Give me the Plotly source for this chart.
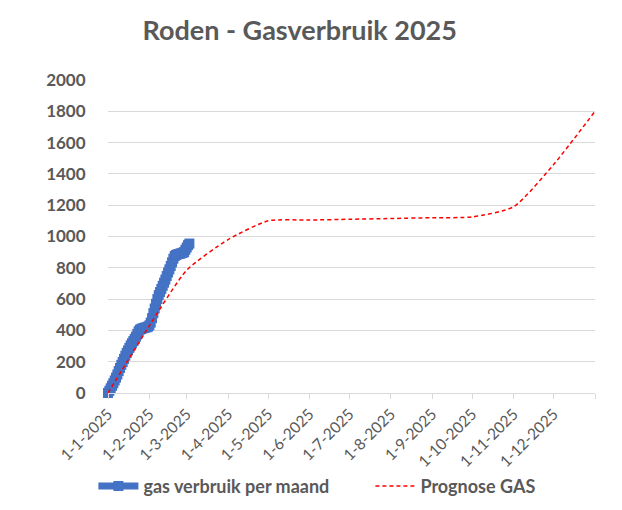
import datetime as dt
import plotly.graph_objects as go

# --- data ---
start_date = "2025-01-01"
gas_verbruik = [0, 14, 30, 46, 62, 80, 98, 118, 140, 160, 180, 198, 218, 238, 256, 272,
                288, 304, 318, 332, 346, 360, 378, 395, 405, 410, 413, 416, 418, 420, 424,
                432, 450, 478, 510, 540, 570, 600, 625, 645, 665, 685, 705, 725, 748, 770,
                790, 812, 835, 858, 875, 882, 886, 888, 890, 893, 896, 900, 915, 930, 945, 955]
prognose_dates = ["2025-01-01", "2025-02-01", "2025-03-01", "2025-04-01", "2025-05-01",
                  "2025-06-01", "2025-07-01", "2025-08-01", "2025-09-01", "2025-10-01",
                  "2025-11-01", "2025-12-01", "2026-01-01"]
prognose_gas = [0, 430, 785, 980, 1100, 1105, 1110, 1115, 1120, 1125, 1190, 1460, 1800]
tick_labels = ["1-1-2025", "1-2-2025", "1-3-2025", "1-4-2025", "1-5-2025", "1-6-2025",
               "1-7-2025", "1-8-2025", "1-9-2025", "1-10-2025", "1-11-2025", "1-12-2025", ""]
y_ticks = [0, 200, 400, 600, 800, 1000, 1200, 1400, 1600, 1800, 2000]

d0 = dt.date.fromisoformat(start_date)
gas_dates = [(d0 + dt.timedelta(days=i)).isoformat() for i in range(len(gas_verbruik))]

FONT = "Lato"
GRAY = "#595959"

fig = go.Figure()
fig.add_trace(go.Scatter(
    x=gas_dates, y=gas_verbruik, mode="lines+markers", name="gas verbruik per maand",
    line=dict(color="#4472C4", width=7),
    marker=dict(symbol="square", size=10, color="#4472C4"),
    cliponaxis=False,
))
fig.add_trace(go.Scatter(
    x=prognose_dates, y=prognose_gas, mode="lines", name="Prognose GAS",
    line=dict(color="#FF0000", width=1.5, dash="4px,3px", shape="spline", smoothing=0.6),
))

fig.update_layout(
    width=622, height=510,
    margin=dict(l=100, r=35, t=72, b=125, autoexpand=False),
    paper_bgcolor="white", plot_bgcolor="white",
    font=dict(family=FONT, color=GRAY),
    title=dict(text="Roden - Gasverbruik 2025", x=0.469, xanchor="center",
               xref="container", y=1 - 23 / 510, yref="container", yanchor="middle",
               font=dict(size=27, color=GRAY, family=FONT, weight="bold")),
    showlegend=True,
    legend=dict(orientation="h", x=-0.03, xanchor="left", y=-0.298, yanchor="middle",
                bgcolor="rgba(0,0,0,0)",
                font=dict(size=18, color=GRAY, family=FONT, weight="bold"),
                itemwidth=40, entrywidth=222, entrywidthmode="pixels"),
)
fig.update_xaxes(
    type="date", range=["2025-01-01", "2026-01-01"], automargin=False,
    tickmode="array", tickvals=prognose_dates, ticktext=tick_labels,
    tickangle=-45, tickfont=dict(size=15.5, color=GRAY),
    showgrid=False, showline=True, linecolor="#d9d9d9", linewidth=1,
    ticks="outside", ticklen=5, tickcolor="#d9d9d9", zeroline=False,
)
fig.update_yaxes(
    range=[0, 2000], tickmode="array", tickvals=y_ticks, automargin=False,
    tickfont=dict(size=17, color=GRAY, weight="bold"),
    showgrid=True, gridcolor="#d9d9d9", gridwidth=1, zeroline=False,
    showline=False, ticks="outside", ticklen=18, tickcolor="rgba(0,0,0,0)",
)
fig.write_html("out.html")
